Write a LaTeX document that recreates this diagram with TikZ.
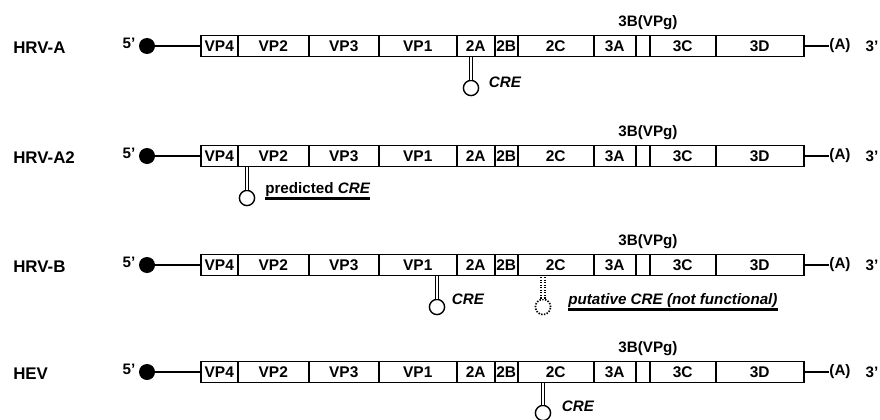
\documentclass[tikz,border=0pt]{standalone}
\usepackage{fontspec}
\setmainfont{Liberation Sans}
\usepackage{tikz}
\usetikzlibrary{positioning}

\tikzset{
    segbox/.style={draw, line width=1.1pt, inner sep=0pt, minimum height=0.52cm,
        anchor=west, font=\fontsize{11}{12}\selectfont\bfseries},
    capdot/.style={circle, fill=black, inner sep=0pt, minimum size=0.4cm},
    loopend/.style={circle, draw, line width=1pt, inner sep=0pt, minimum size=0.38cm},
    stem/.style={double, double distance=1.8pt, line width=0.8pt},
    txt/.style={inner sep=0pt, font=\fontsize{10.8}{12}\selectfont\bfseries},
    rowname/.style={inner sep=0pt, anchor=west, font=\fontsize{12}{13}\selectfont\bfseries},
    uline/.style={line width=2pt},
}

\begin{document}
\begin{tikzpicture}[x=0.025cm, y=-0.025cm]
    \useasboundingbox (0,0) rectangle (880,420);

    % genome of each virus
    \foreach \row/\y/\name in {a/46/HRV-A, atwo/156/HRV-A2, b/265/HRV-B, hev/372/HEV} {
        \node[rowname] at (13,{\y+2}) {\name};
        \foreach \l/\r/\t [count=\i] in {200/237/VP4, 237/308/VP2, 308/378/VP3, 378/456/VP1,
                456/494/2A, 494/517/2B, 517/593/2C, 593/635/3A, 635/649/{}, 649/715/3C, 715/803/3D} {
            \node[segbox, minimum width={(\r-\l)*0.025cm}] (\row-s\i) at (\l,\y) {\t};
        }
        \node[capdot] (\row-cap) at (147,\y) {};
        \node[txt] (\row-five) at (129,{\y-3}) {5'};
        \draw[line width=1.1pt] (\row-cap) -- (\row-s1.west);
        \node[txt] (\row-polya) at (840,\y) {(A)};
        \draw[line width=1.1pt] (\row-s11.east) -- (\row-polya.west);
        \node[txt] (\row-three) at (872,\y) {3'};
        \node[txt] (\row-vpg) at (648,{\y-23}) {3B(VPg)};
    }

    % HRV-A
    \node[loopend] (a-cre) at (471,88) {};
    \draw[stem] (a-cre.north) -- (a-cre.north |- a-s5.south);
    \node[txt] (a-crelbl) at (505,82) {\itshape CRE};

    % HRV-A2
    \node[loopend] (atwo-cre) at (247,198) {};
    \draw[stem] (atwo-cre.north) -- (atwo-cre.north |- atwo-s2.south);
    \node[txt, anchor=west] (atwo-crelbl) at (265,190) {predicted \itshape CRE};
    \draw[uline] ([yshift=-1pt]atwo-crelbl.south west) -- ([yshift=-1pt]atwo-crelbl.south east);

    % HRV-B
    \node[loopend] (b-cre) at (437,307) {};
    \draw[stem] (b-cre.north) -- (b-cre.north |- b-s4.south);
    \node[txt] (b-crelbl) at (468,299) {\itshape CRE};
    \node[loopend, densely dotted, line width=1.2pt] (b-put) at (543,307) {};
    \draw[stem, densely dotted, line width=1pt] (b-put.north) -- (b-put.north |- b-s7.south);
    \node[txt, anchor=west] (b-putlbl) at (568,301) {\itshape putative CRE (not functional)};
    \draw[uline] ([yshift=-1pt]b-putlbl.south west) -- ([yshift=-1pt]b-putlbl.south east);

    % HEV
    \node[loopend] (hev-cre) at (543,413) {};
    \draw[stem] (hev-cre.north) -- (hev-cre.north |- hev-s7.south);
    \node[txt] (hev-crelbl) at (578,406) {\itshape CRE};
\end{tikzpicture}
\end{document}
